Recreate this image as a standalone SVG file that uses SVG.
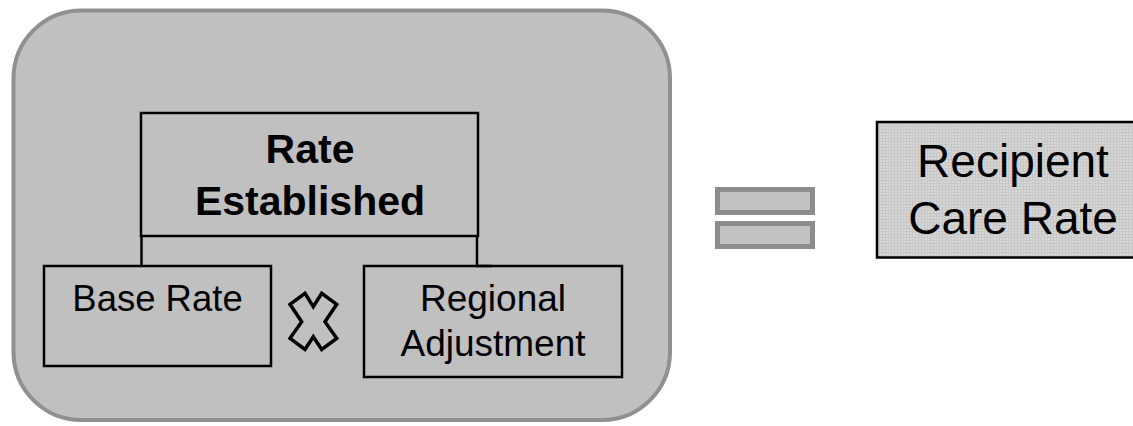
<svg xmlns="http://www.w3.org/2000/svg" width="1133" height="426" viewBox="0 0 1133 426">
<style>
.box{fill:none;stroke:#000;stroke-width:2.5}
.t{font-family:"Liberation Sans",Arial,sans-serif;fill:#000;text-anchor:middle}
.conn{fill:none;stroke:#000;stroke-width:2.5}
.eq{fill:#c2c2c2;stroke:#8c8c8c;stroke-width:5}
</style>
<defs>
<pattern id="grid" width="3" height="3" patternUnits="userSpaceOnUse">
<rect width="3" height="3" fill="#d6d6d6"/>
<path d="M0 0.5H3M0.5 0V3" stroke="#c8c8c8" stroke-width="1"/>
</pattern>
</defs>
<rect width="1133" height="426" fill="#fff"/>
<g id="container">
<rect x="13.5" y="10.5" width="656.5" height="409.5" rx="68" ry="68" fill="#c0c0c0" stroke="#909090" stroke-width="4"/>
</g>
<g id="connectors">
<path class="conn" d="M141.5 236V266"/>
<path class="conn" d="M477 236V266H492"/>
</g>
<g id="rate-established">
<rect class="box" x="141" y="113" width="337" height="123"/>
<text class="t" x="310" y="163" font-size="41" font-weight="bold">Rate</text>
<text class="t" x="310" y="215" font-size="41" font-weight="bold">Established</text>
</g>
<g id="base-rate">
<rect class="box" x="44" y="266" width="227" height="100"/>
<text class="t" x="157.5" y="311" font-size="36.5">Base Rate</text>
</g>
<g id="times">
<polygon points="290,304.3 305,293.3 313.3,306.7 321.7,293.3 336.7,304.3 325,321.7 336.7,338.3 321.7,349.5 313.3,336.7 305,349.5 290,338.3 301.7,321.7" fill="none" stroke="#000" stroke-width="3.5" stroke-linejoin="miter"/>
</g>
<g id="regional-adjustment">
<rect class="box" x="364" y="266" width="258" height="111"/>
<text class="t" x="493" y="311" font-size="37">Regional</text>
<text class="t" x="493" y="356" font-size="37">Adjustment</text>
</g>
<g id="equals">
<rect class="eq" x="717.5" y="189.5" width="95" height="23"/>
<rect class="eq" x="717.5" y="223.5" width="95" height="23"/>
</g>
<g id="recipient-care-rate">
<rect x="877" y="122" width="260" height="135.5" fill="url(#grid)" stroke="#000" stroke-width="2.5"/>
<text class="t" x="1013" y="177" font-size="46">Recipient</text>
<text class="t" x="1013" y="234" font-size="46">Care Rate</text>
</g>
</svg>
